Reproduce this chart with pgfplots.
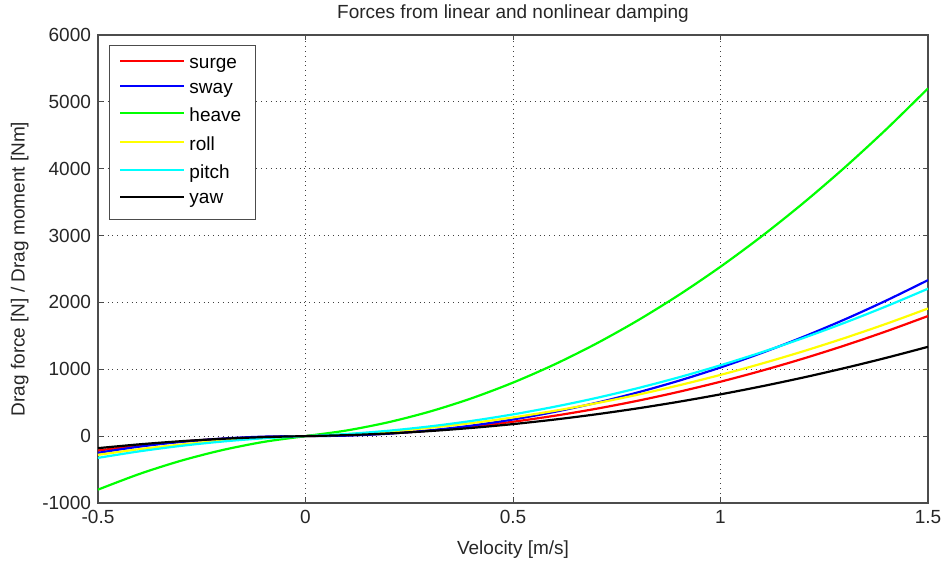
\documentclass[border=0pt]{standalone}
\usepackage{pgfplots}
\pgfplotsset{compat=1.18}
\usepackage{pgfplotstable}
\usepackage{fontspec}
\setmainfont{Liberation Sans}
\usetikzlibrary{calc}
\pgfplotstableread{
v surge sway heave roll pitch yaw
-0.5 -215.3 -249.3 -800.3 -279.8 -325.0 -179.8
-0.4 -141.5 -157.1 -565.5 -195.3 -227.2 -122.6
-0.3 -83.1 -86.1 -368.1 -125.1 -145.8 -76.0
-0.2 -40.1 -36.3 -208.1 -69.1 -80.8 -40.0
-0.1 -12.4 -7.6 -85.4 -27.4 -32.2 -14.7
0 0 0 0 0 0 0
0.1 12.4 7.6 85.4 27.4 32.2 14.7
0.2 40.1 36.3 208.1 69.1 80.8 40.0
0.3 83.1 86.1 368.1 125.1 145.8 76.0
0.4 141.5 157.1 565.5 195.3 227.2 122.6
0.5 215.3 249.3 800.3 279.8 325.0 179.8
0.6 304.3 362.5 1072.3 378.5 439.2 247.6
0.7 408.7 496.9 1381.7 491.5 569.8 326.0
0.8 528.5 652.5 1728.5 618.7 716.8 415.0
0.9 663.6 829.2 2112.6 760.2 880.2 514.7
1.0 814.0 1027.0 2534.0 916.0 1060.0 625.0
1.1 979.8 1246.0 2992.8 1086.0 1256.2 745.9
1.2 1160.9 1486.1 3488.9 1270.3 1468.8 877.4
1.3 1357.3 1747.3 4022.3 1468.9 1697.8 1019.6
1.4 1569.1 2029.7 4593.1 1681.7 1943.2 1172.4
1.5 1796.3 2333.3 5201.3 1908.8 2205.0 1335.8
}\data
\begin{document}
\begin{tikzpicture}
\begin{axis}[
  name=ax,
  scale only axis,
  width=415pt, height=234pt,
  xmin=-0.5, xmax=1.5, ymin=-1000, ymax=6000,
  xtick={-0.5,0,0.5,1,1.5},
  ytick={-1000,0,1000,2000,3000,4000,5000,6000},
  xticklabels={-0.5,0,0.5,1,1.5},
  /pgf/number format/assume math mode=true,
  /pgf/number format/1000 sep={},
  tick label style={font=\fontsize{9.5}{11}\selectfont, black!85},
  label style={font=\fontsize{9.5}{11}\selectfont, black!85},
  title style={font=\fontsize{9.5}{11}\selectfont, black!85, yshift=-3.5pt},
  title={Forces from linear and nonlinear damping},
  xlabel={Velocity [m/s]},
  ylabel={Drag force [N] / Drag moment [Nm]},
  xlabel style={yshift=-1.5pt},
  ylabel style={yshift=0pt},
  grid=major,
  major grid style={dotted, black!75, line width=0.5pt},
  tick align=inside,
  major tick length=2.5pt,
  axis line style={black!70, line width=0.6pt},
  tick style={black!70, line width=0.5pt},
  legend style={at={(0.013,0.979)}, anchor=north west, draw=black!70, line width=0.5pt,
    font=\fontsize{9.5}{11}\selectfont, row sep=1.9pt, inner xsep=5pt, inner ysep=4.3pt},
  legend cell align=left,
  legend image code/.code={\draw[#1] (0pt,1.6pt) -- (32pt,1.6pt);},
  every axis plot/.append style={line width=1.1pt, smooth},
]
\addplot[color={rgb,255:red,255;green,0;blue,0}] table[x=v,y=surge] {\data};
\addlegendentry{surge}
\addplot[color={rgb,255:red,0;green,0;blue,255}] table[x=v,y=sway] {\data};
\addlegendentry{sway}
\addplot[color={rgb,255:red,0;green,255;blue,0}] table[x=v,y=heave] {\data};
\addlegendentry{heave}
\addplot[color={rgb,255:red,255;green,255;blue,0}] table[x=v,y=roll] {\data};
\addlegendentry{roll}
\addplot[color={rgb,255:red,0;green,255;blue,255}] table[x=v,y=pitch] {\data};
\addlegendentry{pitch}
\addplot[color=black] table[x=v,y=yaw] {\data};
\addlegendentry{yaw}
\end{axis}
\pgfresetboundingbox
\path ($(ax.south west)+(-49pt,-32.5pt)$) rectangle ($(ax.north east)+(9.5pt,17.5pt)$);
\end{tikzpicture}
\end{document}
